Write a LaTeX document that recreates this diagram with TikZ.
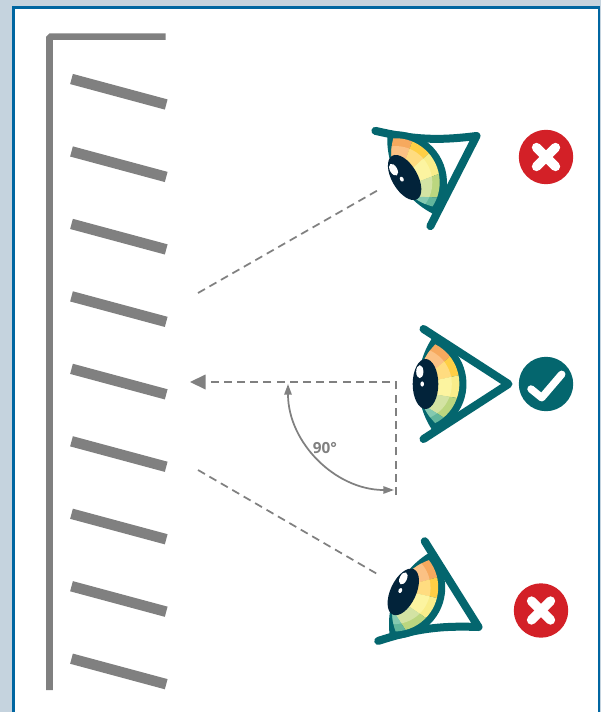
\documentclass[tikz,border=0pt]{standalone}
\usepackage{fontspec}
\setsansfont{Open Sans}
\usepackage{xcolor}
\usetikzlibrary{arrows.meta, calc}
\definecolor{wallgray}{HTML}{808080}
\definecolor{eyeteal}{HTML}{04666E}
\definecolor{pupilblue}{HTML}{02233A}
\definecolor{badred}{HTML}{D32027}
\definecolor{pagebg}{HTML}{C5D3DE}
\definecolor{framblue}{HTML}{0066A1}

\begin{document}
\begin{tikzpicture}[
    x=0.75pt, y=0.75pt,
    wall/.style={draw=wallgray, line width=4.9pt},
    slat/.style={draw=wallgray, line width=7.9pt},
    sight/.style={draw=wallgray, line width=1.3pt, dash pattern=on 6pt off 3.9pt},
    anglearc/.style={draw=wallgray, line width=1.3pt, {Stealth[length=8pt,width=5.5pt,inset=0pt]}-{Stealth[length=8pt,width=5.5pt,inset=0pt]}},
    badge/.style={circle, fill=#1, minimum size=40.8pt, inner sep=0pt},
    glyph/.style={draw=white, line cap=round, line join=round, line width=#1},
    eyeline/.style={draw=eyeteal, line width=6pt, line cap=round, line join=round},
    pics/eye/.style n args={2}{code={
        \draw[eyeline] (-85,55) to[bend right=#1] (0,0) to[bend right=#2] (-85,-55);
        \fill[eyeteal] (-75,48) arc[start angle=69, end angle=-69, radius=51.4]
            arc[start angle=215, end angle=145, radius=83.6] -- cycle;
        \coordinate (ca) at (-91,80);
        \coordinate (cb) at (-40,80);
        \coordinate (da) at (-91,0);
        \coordinate (db) at (-40,43);
        \coordinate (ea) at (-90,0);
        \coordinate (eb) at (-30,13);
        \coordinate (fa) at (-90,-7.7);
        \coordinate (fb) at (-30,-17.5);
        \coordinate (ga) at (-90,-17.8);
        \coordinate (gb) at (-40,-49);
        \coordinate (ha) at (-90,-80);
        \coordinate (hb) at (-40,-80);
        \begin{scope}
            \clip (-73.3,39.7) arc[start angle=63, end angle=-63, radius=44.2]
                arc[start angle=225.3, end angle=134.7, radius=55.3] -- cycle;
            \foreach \pa/\pb/\qb/\qa/\colr in {ca/cb/db/da/F6A95E, da/db/eb/ea/FFCF45, ea/eb/fb/fa/F9ED8A, fa/fb/gb/ga/BBD67F, ga/gb/hb/ha/63B69C} {
                \definecolor{outerring}{HTML}{\colr}
                \fill[outerring] (\pa) -- (\pb) -- (\qb) -- (\qa) -- cycle;
            }
            \clip (-93.2,0) circle[radius=36.5];
            \foreach \pa/\pb/\qb/\qa/\coll in {ca/cb/db/da/FBC184, da/db/eb/ea/FFDC80, ea/eb/fb/fa/FCF4A0, fa/fb/gb/ga/D3E3A3, ga/gb/hb/ha/85C9B0} {
                \definecolor{innerring}{HTML}{\coll}
                \fill[innerring] (\pa) -- (\pb) -- (\qb) -- (\qa) -- cycle;
            }
        \end{scope}
        \fill[pupilblue] (-83,0) ellipse[x radius=12.8, y radius=25];
        \fill[white] (-88.7,12.3) ellipse[x radius=3.6, y radius=6.5];
        \fill[white] (-86.3,0) ellipse[x radius=1.8, y radius=2.6];
    }}
]
    \useasboundingbox (0,0) rectangle (601,-712);
    \fill[pagebg] (0,0) rectangle (601,-712);
    \draw[fill=white, draw=framblue, line width=2pt] (13.5,-714) |- (599,-7.2) -- (599,-714);

    % wall with its slats
    \coordinate (walltop) at (165.7,-36.7);
    \coordinate (wallcorner) at (49.5,-36.7);
    \coordinate (wallfoot) at (49.5,-690);
    \draw[wall, rounded corners=1pt] (walltop) -- (wallcorner) -- (wallfoot);
    \foreach \i in {0,...,8} {
        \coordinate (slatl\i) at (71.5,-79-72.46*\i);
        \coordinate (slatr\i) at (166.2,-104.5-72.46*\i);
        \draw[slat] (slatl\i) -- (slatr\i);
    }

    % eyes and badges
    \pic[rotate=30] at (476.5,-136) {eye={10}{0}};
    \pic at (508.5,-384) {eye={0}{0}};
    \pic[rotate=-25] at (478.5,-627) {eye={0}{10}};
    \node[badge=badred] (badtop) at (546,-157) {};
    \node[badge=eyeteal] (badmid) at (546,-384) {};
    \node[badge=badred] (badlow) at (541,-610.5) {};
    \draw[glyph=7pt] ($(badtop)+(-9.5,9.5)$) -- ($(badtop)+(9.5,-9.5)$);
    \draw[glyph=7pt] ($(badtop)+(-9.5,-9.5)$) -- ($(badtop)+(9.5,9.5)$);
    \draw[glyph=7pt] ($(badlow)+(-9.5,9.5)$) -- ($(badlow)+(9.5,-9.5)$);
    \draw[glyph=7pt] ($(badlow)+(-9.5,-9.5)$) -- ($(badlow)+(9.5,9.5)$);
    \draw[glyph=5.6pt] ($(badmid)+(-15,-5)$) -- ($(badmid)+(-4.3,-13.7)$) -- ($(badmid)+(15.7,9.7)$);

    % lines of sight
    \coordinate (sighttop) at (198,-293);
    \coordinate (eyetop) at (380,-189);
    \coordinate (sightlow) at (198,-470);
    \coordinate (eyelow) at (379,-575);
    \coordinate (sightmid) at (206,-382);
    \coordinate (sightcorner) at (396,-382);
    \coordinate (sightfoot) at (396,-495);
    \coordinate (arrowtip) at (190,-382);
    \draw[sight] (sighttop) -- (eyetop);
    \draw[sight] (sightlow) -- (eyelow);
    \draw[sight] (sightfoot) -- (sightcorner) -- (sightmid);
    \fill[wallgray] (arrowtip) -- ++(15.5,7.5) -- ++(0,-15) -- cycle;

    \coordinate (arcstart) at (288,-384);
    \draw[anglearc] (arcstart) arc[start angle=180, end angle=270, radius=106];
    \node[font=\sffamily\bfseries\fontsize{11.5}{13}\selectfont, text=wallgray] (anglelabel) at (325,-448) {90°};
\end{tikzpicture}
\end{document}
